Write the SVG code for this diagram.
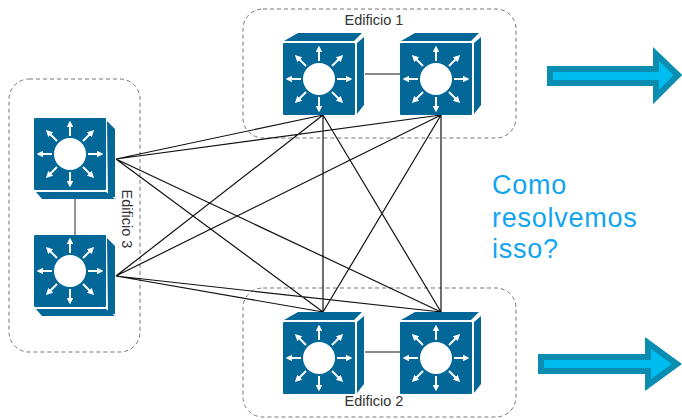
<svg xmlns="http://www.w3.org/2000/svg" width="682" height="420" viewBox="0 0 682 420">
<style>
.zone{fill:none;stroke:#777;stroke-width:1;stroke-dasharray:4 3}
.link{stroke:#111;stroke-width:1.2;fill:none}
.peer{stroke:#666;stroke-width:1.4;fill:none}
.lbl{font:14.5px "Liberation Sans",Arial,sans-serif;fill:#333;text-anchor:middle}
.q{font:27px "Liberation Sans",Arial,sans-serif;fill:#12a5ee;letter-spacing:.75px}
.arrow{fill:#00bdf0;stroke:#0a8db0;stroke-width:6}
.b{fill:#036897}
.w{fill:#fff}
.ar{stroke:#fff;stroke-width:2;fill:none}
</style>
<defs>
<marker id="h" markerWidth="3.4" markerHeight="3.4" refX="1.2" refY="1.7" orient="auto"><path d="M0 0L3.4 1.7L0 3.4z" fill="#fff"/></marker>
<g id="face">
<rect class="b" width="72" height="72" rx="1"/>
<circle class="w" cx="36" cy="36" r="16"/>
<g class="ar">
<path d="M36 18V7" marker-end="url(#h)"/><path d="M36 54V65" marker-end="url(#h)"/><path d="M18 36H7" marker-end="url(#h)"/><path d="M54 36H65" marker-end="url(#h)"/>
<path d="M23 23L15 15" marker-end="url(#h)"/><path d="M49 23L57 15" marker-end="url(#h)"/><path d="M23 49L15 57" marker-end="url(#h)"/><path d="M49 49L57 57" marker-end="url(#h)"/>
</g>
</g>
<g id="sw">
<path class="b" d="M1-2L15-10H79L71-2z"/>
<path class="b" d="M74 0L81-6V62L74 71z"/>
<use href="#face"/>
</g>
<g id="swl">
<path class="b" d="M73 3L81 11V79H74z"/>
<path class="b" d="M2 74H72L81 81H8z"/>
<use href="#face"/>
</g>
</defs>
<rect class="zone" x="243" y="9" width="273" height="129" rx="20"/>
<rect class="zone" x="9" y="79" width="131" height="273" rx="20"/>
<rect class="zone" x="243" y="288" width="273" height="129" rx="20"/>
<g id="connectors">
<path class="peer" d="M365 74H400M365 352H400M75 199V235"/>
<path class="link" d="M116 159L323 115M116 159L441 115M116 159L323 312M116 159L441 312M116 276L323 115M116 276L441 115M116 276L323 312M116 276L441 312M323 115V312M323 115L441 312M441 115V312M441 115L323 312"/>
</g>
<g id="switch-e1a"><use href="#sw" x="283" y="43"/></g>
<g id="switch-e1b"><use href="#sw" x="400" y="43"/></g>
<g id="switch-e2a"><use href="#sw" x="283" y="322"/></g>
<g id="switch-e2b"><use href="#sw" x="400" y="322"/></g>
<g id="switch-e3a"><use href="#swl" x="34" y="118"/></g>
<g id="switch-e3b"><use href="#swl" x="34" y="235"/></g>
<g id="label-e1"><text class="lbl" x="374" y="25">Edificio 1</text></g>
<g id="label-e2"><text class="lbl" x="374" y="406">Edificio 2</text></g>
<g id="label-e3"><text class="lbl" transform="translate(122,219) rotate(90)">Edificio 3</text></g>
<g id="question">
<text class="q" x="492" y="194">Como</text>
<text class="q" x="492" y="227">resolvemos</text>
<text class="q" x="492" y="258">isso?</text>
</g>
<g id="arrow-1"><path class="arrow" d="M550 69H656V54L678 75L656 97V83H550z"/></g>
<g id="arrow-2"><path class="arrow" d="M541 357H648V343L677 364L648 385V371H541z"/></g>
</svg>
